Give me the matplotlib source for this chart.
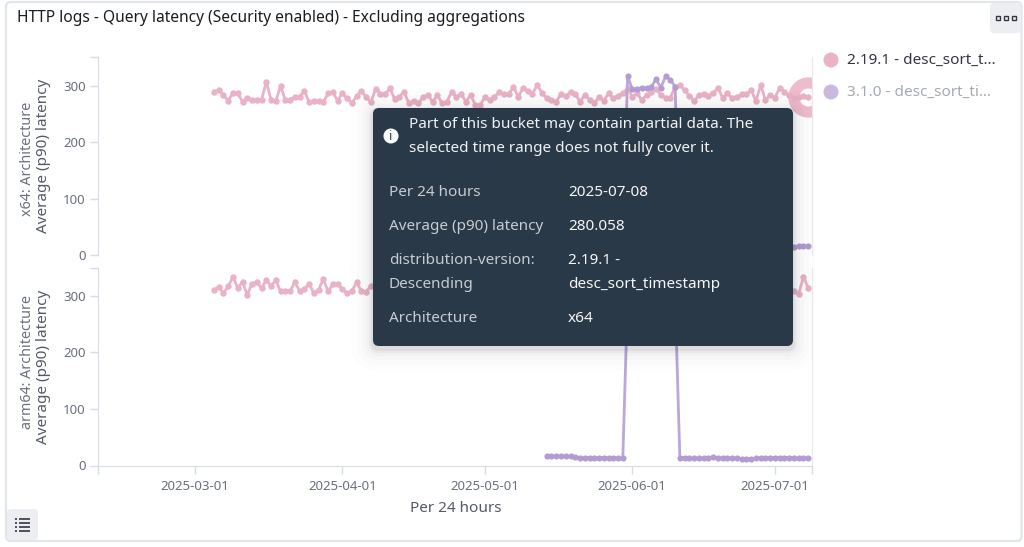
import numpy as np
import pandas as pd
import matplotlib
matplotlib.use("Agg")
import matplotlib.pyplot as plt
from matplotlib.patches import FancyBboxPatch, Circle, Rectangle

plt.rcParams['font.family'] = ['Noto Sans', 'DejaVu Sans']

# daily p90 latency
x64_v2 = [289, 293, 284, 274, 288, 287, 272, 279, 275, 275, 275, 308, 276, 273, 300, 275, 276, 281, 281, 292,
          271, 274, 274, 271, 287, 289, 274, 287, 278, 270, 282, 292, 280, 271, 295, 286, 285, 296, 277, 281,
          290, 269, 274,
          269, 281, 284, 272, 284, 269, 272, 290, 281, 286, 272, 284, 266, 266, 281, 275, 281, 289, 286, 286,
          298, 281, 296, 292, 286, 302, 288, 278, 276, 272, 286, 282, 289, 286, 272, 284, 276, 269, 281, 274,
          287, 278,
          283, 287, 296, 281, 287, 275, 284, 290, 295, 284, 279, 279, 299, 301, 293, 283, 273, 284, 286, 283,
          287, 297, 279, 287, 278, 281, 285, 285, 293, 273, 302, 275, 284, 279, 297, 290, 284, 279, 280, 282,
          280.058]
arm_v2_head = [311, 315, 305, 317, 334, 314, 325, 302, 322, 324, 314, 328, 318, 328, 308, 308, 308, 325, 309, 312,
               322, 305, 311, 330, 308, 321, 321, 312, 305, 309, 324, 309, 307, 318, 312]
arm_v2_tail = [312, 309, 303, 334, 314]

x64_v3 = [16, 16, 15, 15, 16, 15, 15, 16, 15, 15, 14, 15, 15, 14, 15, 15, 15,
          317, 295, 295, 297, 296, 299, 312, 297, 317, 311, 299,
          15, 15, 14, 15, 15, 14, 15, 16, 15, 14, 15, 15, 14, 14, 15, 15, 14, 15, 15, 15, 15, 16, 15, 15, 15, 16, 16, 16]
arm_v3 = [16, 16, 17, 17, 16, 16, 15, 14, 14, 14, 14, 14, 14, 14, 13, 14, 13,
          295, 290, 300, 295, 292, 298, 305, 300, 298, 302, 300,
          14, 14, 13, 13, 13, 13, 14, 15, 14, 13, 14, 13, 13, 12, 12, 12, 13, 14, 14, 14, 14, 14, 14, 14, 14, 13, 13, 14]

x_ticks = ['2025-03-01', '2025-04-01', '2025-05-01', '2025-06-01', '2025-07-01']
y_ticks = [0, 100, 200, 300]

legend_labels = ['2.19.1 - desc_sort_t…', '3.1.0 - desc_sort_ti…']

PINK = '#e9b2c6'
PURPLE = '#bba7d9'
AXIS = '#d8dce4'
TICK_TEXT = '#69707d'

dates_v2 = pd.date_range(end='2025-07-08', periods=len(x64_v2))
dates_v3 = pd.date_range(end='2025-07-08', periods=len(x64_v3))
arm_v2 = arm_v2_head + [np.nan] * (len(x64_v2) - len(arm_v2_head) - len(arm_v2_tail)) + arm_v2_tail

W, H = 1024, 547
fig = plt.figure(figsize=(W / 100, H / 100), dpi=100, facecolor='white')


def axes_px(x0, y0, x1, y1):
    return fig.add_axes([x0 / W, 1 - y1 / H, (x1 - x0) / W, (y1 - y0) / H])


ax1 = axes_px(98, 57, 812, 255)
ax2 = axes_px(98, 268, 812, 465.5)

xmin = pd.Timestamp('2025-03-01') - pd.Timedelta(days=20.4)
xmax = pd.Timestamp('2025-07-01') + pd.Timedelta(days=7.8)

for ax, v2, v3, top in [(ax1, x64_v2, x64_v3, 351.5), (ax2, arm_v2, arm_v3, 349.5)]:
    ax.plot(dates_v2, v2, color=PINK, lw=2, marker='o', ms=3.6, zorder=3)
    ax.plot(dates_v3, v3, color=PURPLE, lw=2, marker='o', ms=3.4, mfc='#b29cd3', mec='#b29cd3', zorder=4)
    ax.set_xlim(xmin, xmax)
    ax.set_ylim(0, top)
    ax.set_yticks(y_ticks)
    ax.set_yticks([top], minor=True)
    ax.tick_params(axis='y', which='both', length=5.8, width=1, color=AXIS, labelsize=9.5,
                   labelcolor=TICK_TEXT, pad=3)
    ax.spines['top'].set_visible(False)
    ax.spines['bottom'].set_visible(False)
    ax.spines['left'].set_color(AXIS)
    ax.spines['right'].set_color('#e6e9ee')
    ax.patch.set_alpha(0)

ax1.set_xticks([])
ax2.spines['bottom'].set_visible(True)
ax2.spines['bottom'].set_color(AXIS)
ax2.set_xticks(pd.to_datetime(x_ticks))
ax2.set_xticklabels(x_ticks)
ax2.set_xticks([xmin, xmax], minor=True)
ax2.tick_params(axis='x', which='both', length=5.8, width=1, color=AXIS, labelsize=9.5,
                labelcolor=TICK_TEXT, pad=5)

# hover ring on the last point of the first series, clipped by the plot area
ax1.plot(dates_v2[-1:], x64_v2[-1:], marker='o', ms=21, mfc='none', mec='#eebccd', mew=8, zorder=2)

# everything else is placed in pixels on an overlay
ov = fig.add_axes([0, 0, 1, 1], zorder=10)
ov.set_xlim(0, W)
ov.set_ylim(H, 0)
ov.axis('off')
ov.patch.set_alpha(0)

# panel frame
ov.add_patch(FancyBboxPatch((6, 2), 1015.5, 539, boxstyle='round,pad=0,rounding_size=5', fc='none',
                            ec='#e2e5ea', lw=1.6))

# corner buttons
ov.add_patch(FancyBboxPatch((990, 3), 31, 30, boxstyle='round,pad=0,rounding_size=4', fc='#eceef2', ec='none'))
for bx in [997.7, 1005.7, 1014]:
    ov.add_patch(Rectangle((bx - 2.2, 16), 4.4, 4.4, fc='none', ec='#343741', lw=1))
ov.add_patch(FancyBboxPatch((7, 509), 31, 31, boxstyle='round,pad=0,rounding_size=4', fc='#eceef2', ec='none'))
for ly in [519, 523, 527, 531]:
    ov.plot([15, 16.5], [ly, ly], color='#343741', lw=1.2, solid_capstyle='butt')
    ov.plot([19, 30], [ly, ly], color='#343741', lw=1.2, solid_capstyle='butt')

ov.text(17, 18, 'HTTP logs - Query latency (Security enabled) - Excluding aggregations', fontsize=11.2,
        fontweight='bold', color='#1a1c21', ha='left', va='center')

# y titles
ov.text(44, 156, 'Average (p90) latency', rotation=90, fontsize=11, fontweight='bold', color='#535966',
        ha='center', va='center')
ov.text(28, 159, 'x64: Architecture', rotation=90, fontsize=10.3, color=TICK_TEXT, ha='center', va='center')
ov.text(44, 366.5, 'Average (p90) latency', rotation=90, fontsize=11, fontweight='bold', color='#535966',
        ha='center', va='center')
ov.text(28, 362, 'arm64: Architecture', rotation=90, fontsize=10.3, color=TICK_TEXT, ha='center', va='center')
ov.text(456, 508, 'Per 24 hours', fontsize=11, fontweight='bold', color='#535966', ha='center', va='center')

# legend
ov.add_patch(Circle((831, 60), 7.5, fc=PINK, ec='none'))
ov.add_patch(Circle((831, 92), 7.5, fc='#c9b8e0', ec='none'))
ov.text(847, 60, legend_labels[0], fontsize=11, color='#343741', ha='left', va='center')
ov.text(847, 92, legend_labels[1], fontsize=11, color='#a4a9b1', ha='left', va='center')

# tooltip with a soft shadow
for grow, a in [(22, 0.008), (16, 0.012), (11, 0.016), (7, 0.02), (4, 0.03), (2, 0.05)]:
    ov.add_patch(FancyBboxPatch((373 - grow, 108 - grow + 3), 420 + 2 * grow, 238 + 2 * grow,
                                boxstyle='round,pad=0,rounding_size=%d' % (6 + grow), fc='black', ec='none', alpha=a))
ov.add_patch(FancyBboxPatch((373, 108), 420, 238, boxstyle='round,pad=0,rounding_size=6', fc='#2a3947', ec='none'))
ov.add_patch(Circle((391, 136), 7.5, fc='white', ec='none'))
ov.text(391, 136, 'i', fontsize=9, fontweight='bold', color='#2a3947', ha='center', va='center')
ov.text(409, 125, 'Part of this bucket may contain partial data. The', fontsize=11, color='#f0f2f4',
        ha='left', va='center')
ov.text(409, 148, 'selected time range does not fully cover it.', fontsize=11, color='#f0f2f4',
        ha='left', va='center')

LABEL = '#c6ccd3'
rows = [(193, 'Per 24 hours', '2025-07-08'), (227, 'Average (p90) latency', '280.058'),
        (261, 'distribution-version:', '2.19.1 -'), (284, 'Descending', 'desc_sort_timestamp'),
        (319, 'Architecture', 'x64')]
for ry, name, val in rows:
    ov.text(389, ry, name, fontsize=11, color=LABEL, ha='left', va='center')
    ov.text(568, ry, val, fontsize=11, color='#f5f6f7', ha='left', va='center')

fig.savefig('out.png', dpi=100)
